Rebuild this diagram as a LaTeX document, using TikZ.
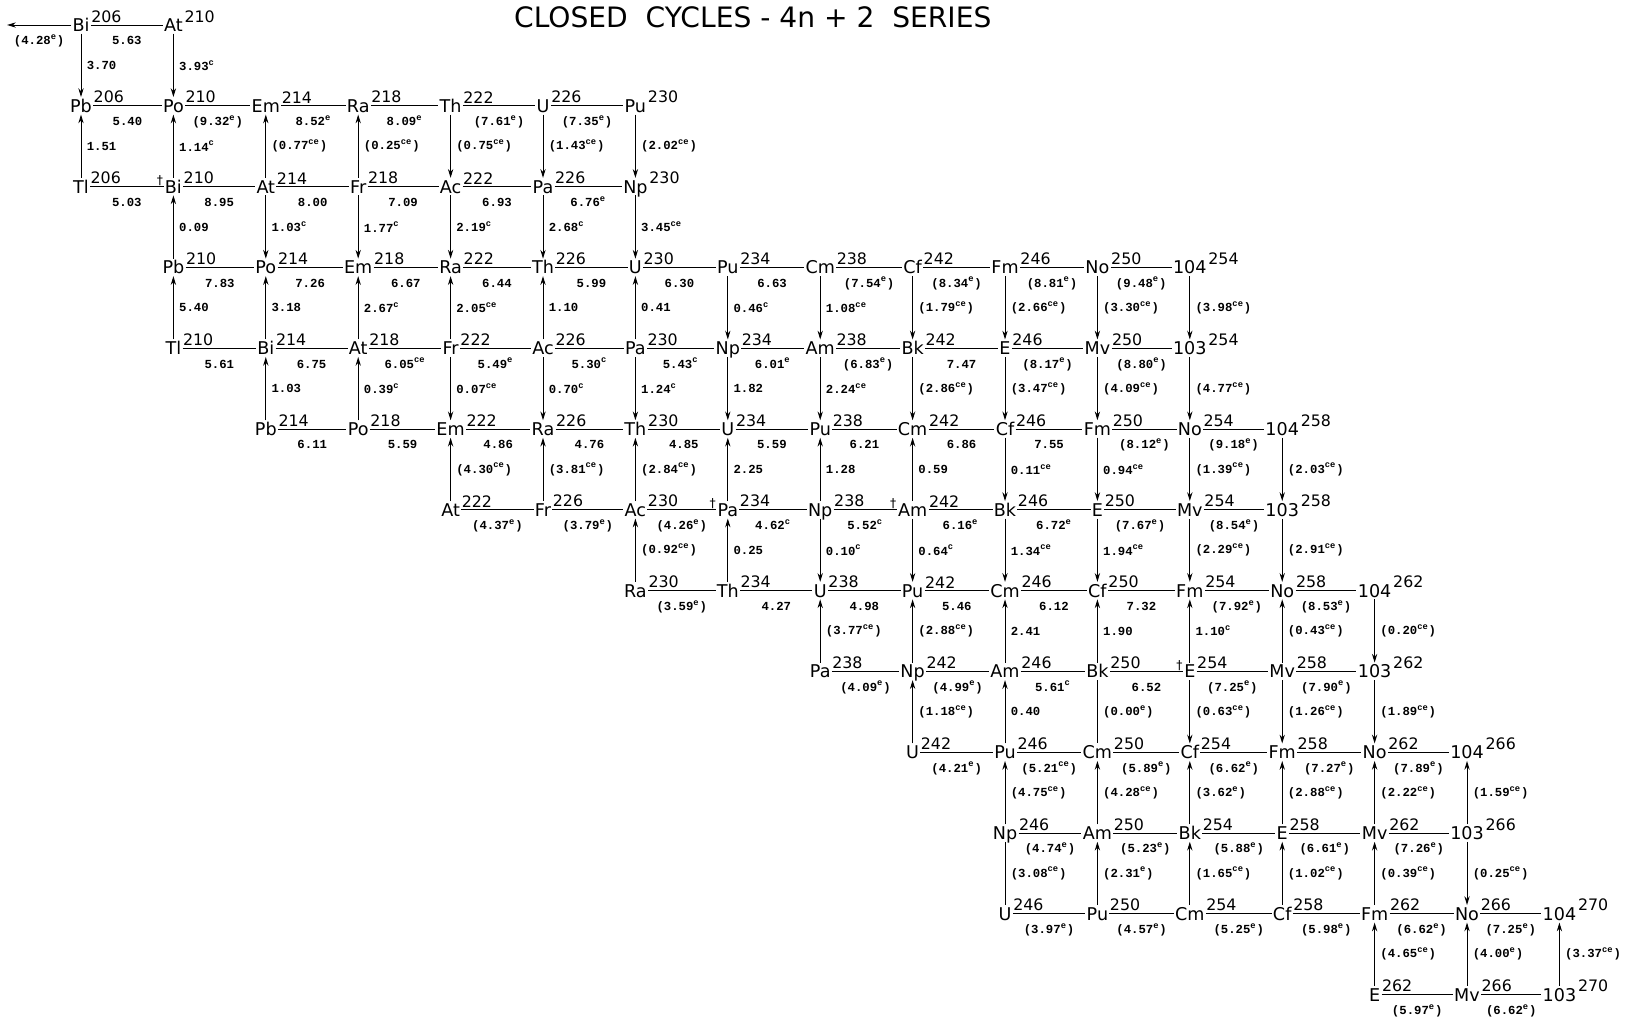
\documentclass[tikz,border=0pt]{standalone}
\usepackage{fontspec}
\setmainfont{DejaVu Sans}
\newfontfamily\numfont{Liberation Mono}
\usetikzlibrary{arrows.meta}
\newcommand{\dcy}[1]{\textsuperscript{#1}}
\tikzset{
  el/.style={font=\fontsize{10}{12}\selectfont, text height=7.4pt, text depth=0pt, inner ysep=1pt, inner xsep=0.5pt},
  ms/.style={font=\fontsize{9}{11}\selectfont, anchor=south west, inner sep=0pt, yshift=1.2pt},
  hv/.style={font=\numfont\bfseries\fontsize{7}{8}\selectfont, anchor=north, inner sep=0pt, text height=5pt, yshift=-6pt},
  vv/.style={font=\numfont\bfseries\fontsize{7}{8}\selectfont, anchor=west, inner sep=0pt, xshift=3pt},
  dg/.style={font=\fontsize{7}{8}\selectfont, anchor=north east, inner sep=0pt},
}
\begin{document}
\begin{tikzpicture}[x=1.848cm,y=-1.616cm,line width=0.55pt,>={Stealth[length=5pt,width=3pt]}]
\useasboundingbox (-1.62cm,0.5cm) rectangle (30.98cm,-19.94cm);
\node[font=\fontsize{16}{19}\selectfont] (title) at (7.27,-0.1) {CLOSED\ \ CYCLES - 4n + 2\ \ SERIES};
\foreach \r/\row in {
  0/{0/Bi/206,1/At/210},
  1/{0/Pb/206,1/Po/210,2/Em/214,3/Ra/218,4/Th/222,5/U/226,6/Pu/230},
  2/{0/Tl/206,1/Bi/210,2/At/214,3/Fr/218,4/Ac/222,5/Pa/226,6/Np/230},
  3/{1/Pb/210,2/Po/214,3/Em/218,4/Ra/222,5/Th/226,6/U/230,7/Pu/234,8/Cm/238,9/Cf/242,10/Fm/246,11/No/250,12/104/254},
  4/{1/Tl/210,2/Bi/214,3/At/218,4/Fr/222,5/Ac/226,6/Pa/230,7/Np/234,8/Am/238,9/Bk/242,10/E/246,11/Mv/250,12/103/254},
  5/{2/Pb/214,3/Po/218,4/Em/222,5/Ra/226,6/Th/230,7/U/234,8/Pu/238,9/Cm/242,10/Cf/246,11/Fm/250,12/No/254,13/104/258},
  6/{4/At/222,5/Fr/226,6/Ac/230,7/Pa/234,8/Np/238,9/Am/242,10/Bk/246,11/E/250,12/Mv/254,13/103/258},
  7/{6/Ra/230,7/Th/234,8/U/238,9/Pu/242,10/Cm/246,11/Cf/250,12/Fm/254,13/No/258,14/104/262},
  8/{8/Pa/238,9/Np/242,10/Am/246,11/Bk/250,12/E/254,13/Mv/258,14/103/262},
  9/{9/U/242,10/Pu/246,11/Cm/250,12/Cf/254,13/Fm/258,14/No/262,15/104/266},
  10/{10/Np/246,11/Am/250,12/Bk/254,13/E/258,14/Mv/262,15/103/266},
  11/{10/U/246,11/Pu/250,12/Cm/254,13/Cf/258,14/Fm/262,15/No/266,16/104/270},
  12/{14/E/262,15/Mv/266,16/103/270}}
  \foreach \c/\s/\m in \row {
    \node[el] (\s\m) at (\c,\r) {\s};
    \node[ms] (\s\m-m) at (\s\m.east) {\m};
  };
\foreach \n in {Bi210,Pa234,Am242,E254}
  \node[dg] (\n-d) at ([yshift=1.5pt]\n.north west) {\dag};
\coordinate (lft) at (-0.8,0);
\draw[->] (Bi206) -- node[hv] {(4.28\dcy{e})} (lft);
\foreach \a/\b/\v in {
  Bi206/At210/5.63,
  Pb206/Po210/5.40, Po210/Em214/{(9.32\dcy{e})}, Em214/Ra218/8.52\dcy{e}, Ra218/Th222/8.09\dcy{e}, Th222/U226/{(7.61\dcy{e})}, U226/Pu230/{(7.35\dcy{e})},
  Tl206/Bi210/5.03, Bi210/At214/8.95, At214/Fr218/8.00, Fr218/Ac222/7.09, Ac222/Pa226/6.93, Pa226/Np230/6.76\dcy{e},
  Pb210/Po214/7.83, Po214/Em218/7.26, Em218/Ra222/6.67, Ra222/Th226/6.44, Th226/U230/5.99, U230/Pu234/6.30, Pu234/Cm238/6.63, Cm238/Cf242/{(7.54\dcy{e})}, Cf242/Fm246/{(8.34\dcy{e})}, Fm246/No250/{(8.81\dcy{e})}, No250/104254/{(9.48\dcy{e})},
  Tl210/Bi214/5.61, Bi214/At218/6.75, At218/Fr222/6.05\dcy{ce}, Fr222/Ac226/5.49\dcy{e}, Ac226/Pa230/5.30\dcy{c}, Pa230/Np234/5.43\dcy{c}, Np234/Am238/6.01\dcy{e}, Am238/Bk242/{(6.83\dcy{e})}, Bk242/E246/7.47, E246/Mv250/{(8.17\dcy{e})}, Mv250/103254/{(8.80\dcy{e})},
  Pb214/Po218/6.11, Po218/Em222/5.59, Em222/Ra226/4.86, Ra226/Th230/4.76, Th230/U234/4.85, U234/Pu238/5.59, Pu238/Cm242/6.21, Cm242/Cf246/6.86, Cf246/Fm250/7.55, Fm250/No254/{(8.12\dcy{e})}, No254/104258/{(9.18\dcy{e})},
  At222/Fr226/{(4.37\dcy{e})}, Fr226/Ac230/{(3.79\dcy{e})}, Ac230/Pa234/{(4.26\dcy{e})}, Pa234/Np238/4.62\dcy{c}, Np238/Am242/5.52\dcy{c}, Am242/Bk246/6.16\dcy{e}, Bk246/E250/6.72\dcy{e}, E250/Mv254/{(7.67\dcy{e})}, Mv254/103258/{(8.54\dcy{e})},
  Ra230/Th234/{(3.59\dcy{e})}, Th234/U238/4.27, U238/Pu242/4.98, Pu242/Cm246/5.46, Cm246/Cf250/6.12, Cf250/Fm254/7.32, Fm254/No258/{(7.92\dcy{e})}, No258/104262/{(8.53\dcy{e})},
  Pa238/Np242/{(4.09\dcy{e})}, Np242/Am246/{(4.99\dcy{e})}, Am246/Bk250/5.61\dcy{c}, Bk250/E254/6.52, E254/Mv258/{(7.25\dcy{e})}, Mv258/103262/{(7.90\dcy{e})},
  U242/Pu246/{(4.21\dcy{e})}, Pu246/Cm250/{(5.21\dcy{ce})}, Cm250/Cf254/{(5.89\dcy{e})}, Cf254/Fm258/{(6.62\dcy{e})}, Fm258/No262/{(7.27\dcy{e})}, No262/104266/{(7.89\dcy{e})},
  Np246/Am250/{(4.74\dcy{e})}, Am250/Bk254/{(5.23\dcy{e})}, Bk254/E258/{(5.88\dcy{e})}, E258/Mv262/{(6.61\dcy{e})}, Mv262/103266/{(7.26\dcy{e})},
  U246/Pu250/{(3.97\dcy{e})}, Pu250/Cm254/{(4.57\dcy{e})}, Cm254/Cf258/{(5.25\dcy{e})}, Cf258/Fm262/{(5.98\dcy{e})}, Fm262/No266/{(6.62\dcy{e})}, No266/104270/{(7.25\dcy{e})},
  E262/Mv266/{(5.97\dcy{e})}, Mv266/103270/{(6.62\dcy{e})}}
  \draw (\a) -- node[hv] {\v} (\b);
\foreach \a/\b/\v in {
  Bi206/Pb206/3.70, At210/Po210/3.93\dcy{c},
  Tl206/Pb206/1.51, Bi210/Po210/1.14\dcy{c}, At214/Em214/{(0.77\dcy{ce})}, Fr218/Ra218/{(0.25\dcy{ce})}, Th222/Ac222/{(0.75\dcy{ce})}, U226/Pa226/{(1.43\dcy{ce})}, Pu230/Np230/{(2.02\dcy{ce})},
  Pb210/Bi210/0.09, At214/Po214/1.03\dcy{c}, Fr218/Em218/1.77\dcy{c}, Ac222/Ra222/2.19\dcy{c}, Pa226/Th226/2.68\dcy{c}, Np230/U230/3.45\dcy{ce},
  Tl210/Pb210/5.40, Bi214/Po214/3.18, At218/Em218/2.67\dcy{c}, Fr222/Ra222/2.05\dcy{ce}, Ac226/Th226/1.10, Pa230/U230/0.41, Pu234/Np234/0.46\dcy{c}, Cm238/Am238/1.08\dcy{ce}, Cf242/Bk242/{(1.79\dcy{ce})}, Fm246/E246/{(2.66\dcy{ce})}, No250/Mv250/{(3.30\dcy{ce})}, 104254/103254/{(3.98\dcy{ce})},
  Pb214/Bi214/1.03, Po218/At218/0.39\dcy{c}, Fr222/Em222/0.07\dcy{ce}, Ac226/Ra226/0.70\dcy{c}, Pa230/Th230/1.24\dcy{c}, Np234/U234/1.82, Am238/Pu238/2.24\dcy{ce}, Bk242/Cm242/{(2.86\dcy{ce})}, E246/Cf246/{(3.47\dcy{ce})}, Mv250/Fm250/{(4.09\dcy{ce})}, 103254/No254/{(4.77\dcy{ce})},
  At222/Em222/{(4.30\dcy{ce})}, Fr226/Ra226/{(3.81\dcy{ce})}, Ac230/Th230/{(2.84\dcy{ce})}, Pa234/U234/2.25, Np238/Pu238/1.28, Am242/Cm242/0.59, Cf246/Bk246/0.11\dcy{ce}, Fm250/E250/0.94\dcy{ce}, No254/Mv254/{(1.39\dcy{ce})}, 104258/103258/{(2.03\dcy{ce})},
  Ra230/Ac230/{(0.92\dcy{ce})}, Th234/Pa234/0.25, Np238/U238/0.10\dcy{c}, Am242/Pu242/0.64\dcy{c}, Bk246/Cm246/1.34\dcy{ce}, E250/Cf250/1.94\dcy{ce}, Mv254/Fm254/{(2.29\dcy{ce})}, 103258/No258/{(2.91\dcy{ce})},
  Pa238/U238/{(3.77\dcy{ce})}, Np242/Pu242/{(2.88\dcy{ce})}, Am246/Cm246/2.41, Bk250/Cf250/1.90, E254/Fm254/1.10\dcy{c}, Mv258/No258/{(0.43\dcy{ce})}, 104262/103262/{(0.20\dcy{ce})},
  U242/Np242/{(1.18\dcy{ce})}, Pu246/Am246/0.40, E254/Cf254/{(0.63\dcy{ce})}, Mv258/Fm258/{(1.26\dcy{ce})}, 103262/No262/{(1.89\dcy{ce})},
  Np246/Pu246/{(4.75\dcy{ce})}, Am250/Cm250/{(4.28\dcy{ce})}, Bk254/Cf254/{(3.62\dcy{e})}, E258/Fm258/{(2.88\dcy{ce})}, Mv262/No262/{(2.22\dcy{ce})}, 103266/104266/{(1.59\dcy{ce})},
  Pu250/Am250/{(2.31\dcy{e})}, Cm254/Bk254/{(1.65\dcy{ce})}, Cf258/E258/{(1.02\dcy{ce})}, Fm262/Mv262/{(0.39\dcy{ce})}, 103266/No266/{(0.25\dcy{ce})},
  E262/Fm262/{(4.65\dcy{ce})}, Mv266/No266/{(4.00\dcy{e})}, 103270/104270/{(3.37\dcy{ce})}}
  \draw[->] (\a) -- node[vv] {\v} (\b);
\draw (Bk250) -- node[vv] {(0.00\dcy{e})} (Cm250);
\draw (Np246) -- node[vv] {(3.08\dcy{ce})} (U246);
\end{tikzpicture}
\end{document}
